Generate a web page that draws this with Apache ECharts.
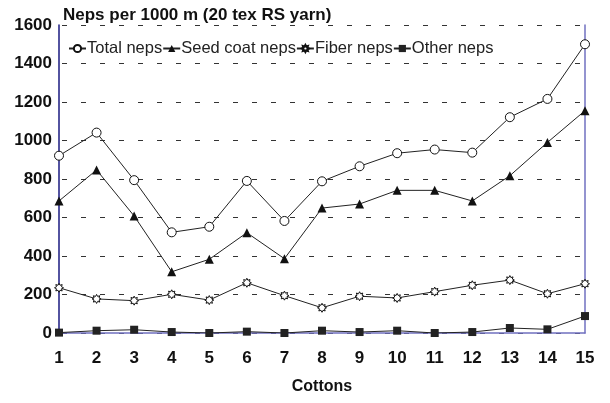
<!DOCTYPE html>
<html><head><meta charset="utf-8">
<script src="https://cdn.jsdelivr.net/npm/echarts@6/dist/echarts.min.js"></script>
<style>html,body{margin:0;padding:0;background:#fff}#c{width:610px;height:403px}</style>
</head><body><div id="c"></div>
<script>
const categories = ['1','2','3','4','5','6','7','8','9','10','11','12','13','14','15'];
const totalNeps = [921, 1041, 794, 523, 552, 790, 582, 788, 866, 934, 953, 937, 1121, 1216, 1500];
const seedCoatNeps = [686, 847, 608, 318, 383, 521, 386, 649, 670, 741, 741, 686, 817, 990, 1155];
const fiberNeps = [235, 177, 168, 201, 171, 261, 194, 131, 191, 182, 215, 248, 275, 204, 256];
const otherNeps = [2, 12, 17, 5, 0, 7, 0, 12, 5, 12, 0, 5, 26, 19, 88];
const yTicks = { min: 0, max: 1600, interval: 200 };

const starPath = 'path://M20 10 L15.54 12.3 L17.07 17.07 L12.3 15.54 L10 20 L7.7 15.54 L2.93 17.07 L4.46 12.3 L0 10 L4.46 7.7 L2.93 2.93 L7.7 4.46 L10 0 L12.3 4.46 L17.07 2.93 L15.54 7.7 Z';
const font = 'Liberation Sans, Arial, sans-serif';
const lineStyle = { color: '#222', width: 1 };

const chart = echarts.init(document.getElementById('c'));
chart.setOption({
  animation: false,
  backgroundColor: '#fff',
  textStyle: { fontFamily: font },
  title: {
    text: 'Neps per 1000 m (20 tex RS yarn)',
    left: 58, top: 2,
    textStyle: { fontFamily: font, fontWeight: 'bold', fontSize: 17, color: '#111' }
  },
  legend: {
    left: 63, top: 35,
    itemWidth: 17, itemHeight: 9, itemGap: 0,
    textStyle: { fontFamily: font, fontSize: 16.5, color: '#222', padding: [0, 0, 0, -4] },
    data: ['Total neps', 'Seed coat neps', 'Fiber neps', 'Other neps']
  },
  grid: { left: 59, right: 25, top: 25, bottom: 70, containLabel: false },
  xAxis: {
    type: 'category', boundaryGap: false, data: categories,
    name: 'Cottons', nameLocation: 'middle', nameGap: 46,
    nameTextStyle: { fontFamily: font, fontWeight: 'bold', fontSize: 16, color: '#111' },
    axisLine: { show: true, lineStyle: { color: '#7070c0', width: 1.5 } },
    axisTick: { show: false },
    axisLabel: { fontFamily: font, fontWeight: 'bold', fontSize: 17, color: '#111', margin: 17 },
    splitLine: { show: false }
  },
  yAxis: [{
    type: 'value', min: yTicks.min, max: yTicks.max, interval: yTicks.interval,
    axisLine: { show: true, lineStyle: { color: '#1a1a80', width: 1.5 } },
    axisTick: { show: false },
    axisLabel: { fontFamily: font, fontWeight: 'bold', fontSize: 17, color: '#111', margin: 7,
      formatter: v => String(v) },
    splitLine: { show: true, lineStyle: { color: '#333', width: 1, type: [5, 14], dashOffset: -3 } }
  }, {
    type: 'value', min: yTicks.min, max: yTicks.max, interval: yTicks.interval, position: 'right',
    axisLine: { show: true, lineStyle: { color: '#7070c0', width: 1.5 } },
    axisTick: { show: false }, axisLabel: { show: false }, splitLine: { show: false }
  }],
  series: [
    { name: 'Total neps', type: 'line', data: totalNeps, symbol: 'circle', symbolSize: 9,
      itemStyle: { color: '#fff', borderColor: '#111', borderWidth: 1 }, lineStyle: lineStyle, z: 4 },
    { name: 'Seed coat neps', type: 'line', data: seedCoatNeps, symbol: 'triangle', symbolSize: 9,
      itemStyle: { color: '#111', borderColor: '#111', borderWidth: 0 }, lineStyle: lineStyle, z: 3 },
    { name: 'Fiber neps', type: 'line', data: fiberNeps, symbol: starPath, symbolSize: 9,
      itemStyle: { color: '#fff', borderColor: '#111', borderWidth: 1 }, lineStyle: lineStyle, z: 2 },
    { name: 'Other neps', type: 'line', data: otherNeps, symbol: 'rect', symbolSize: 8,
      itemStyle: { color: '#222', borderColor: '#222', borderWidth: 0 }, lineStyle: lineStyle, z: 5 }
  ]
});
</script></body></html>
